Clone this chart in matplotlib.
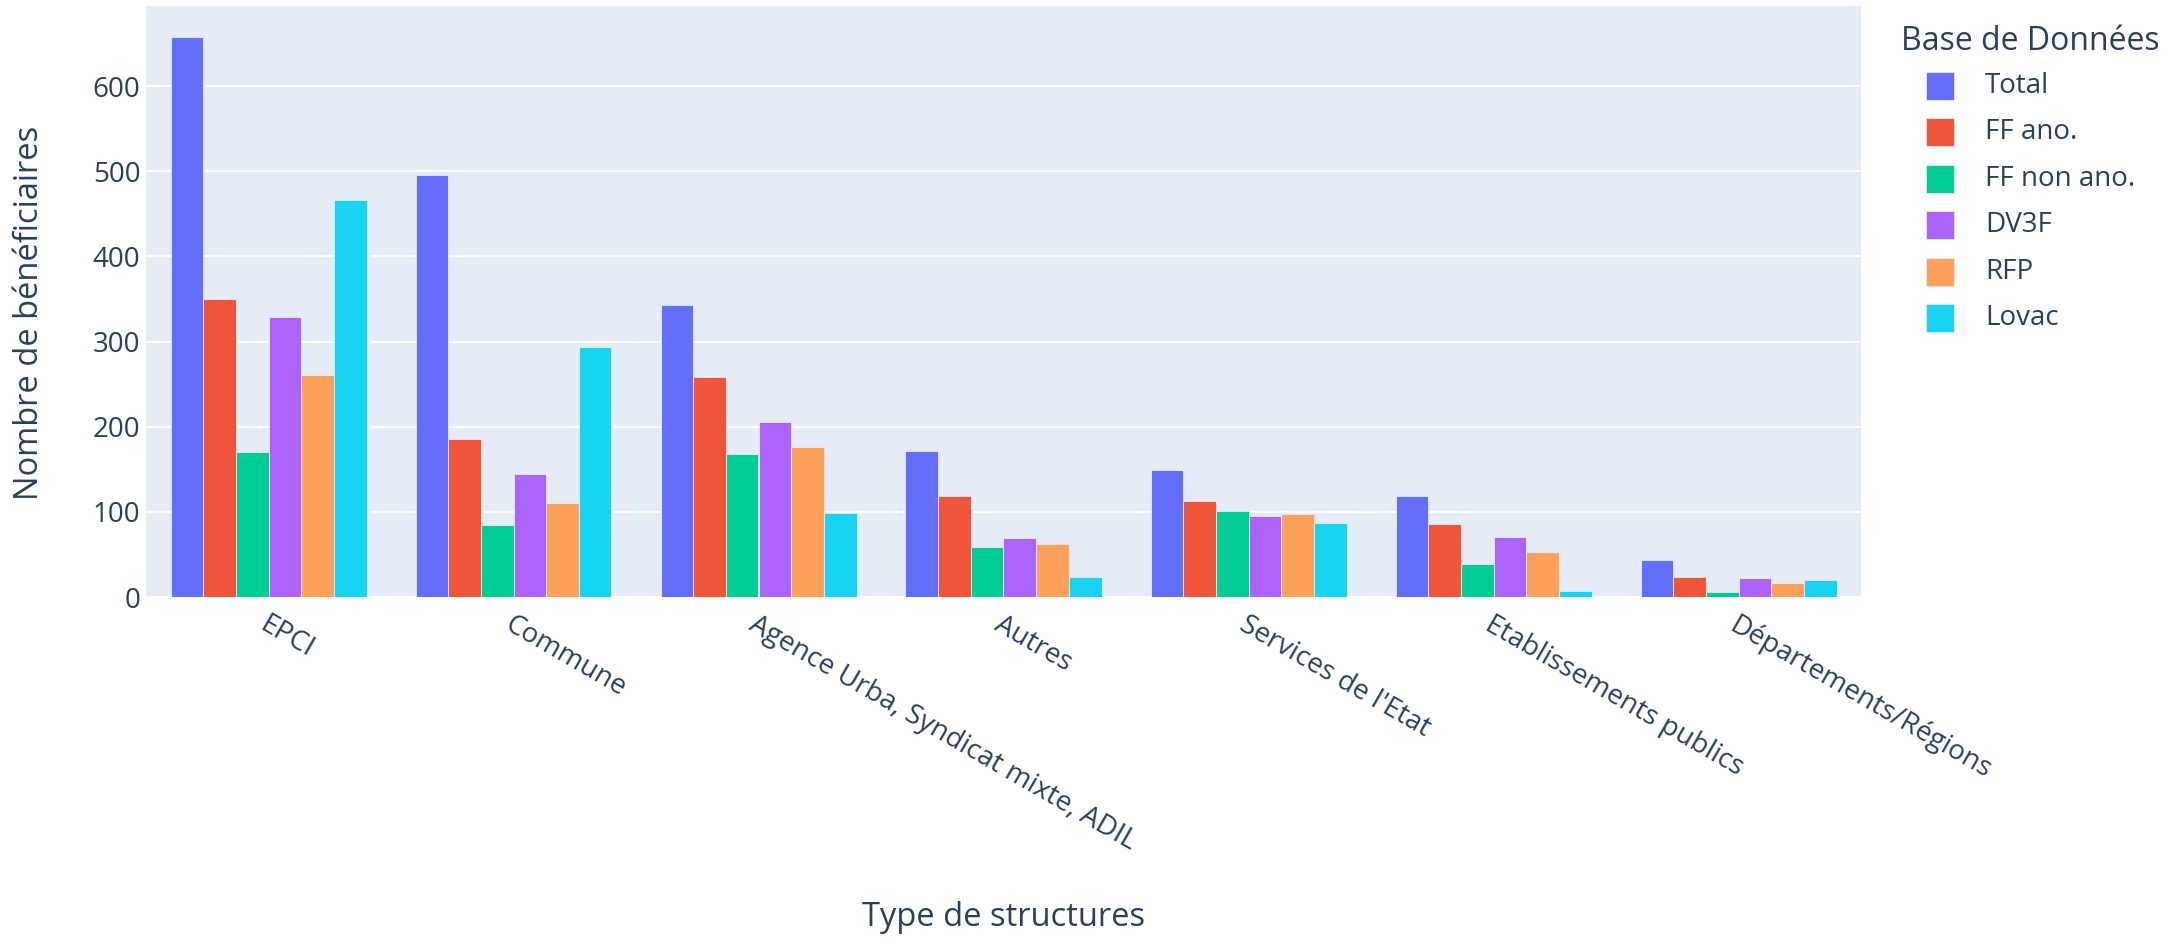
import matplotlib
matplotlib.use("Agg")
import matplotlib.pyplot as plt
import numpy as np
from matplotlib.patches import Rectangle

plt.rcParams['font.family'] = ['Open Sans', 'DejaVu Sans']

# Data
categories = ["EPCI", "Commune", "Agence Urba, Syndicat mixte, ADIL", "Autres",
              "Services de l'Etat", "Etablissements publics", "Départements/Régions"]
series_names = ["Total", "FF ano.", "FF non ano.", "DV3F", "RFP", "Lovac"]
total = [658, 495, 343, 172, 149, 119, 43]
ff_ano = [350, 185, 258, 119, 113, 86, 24]
ff_non_ano = [170, 84, 168, 59, 101, 39, 6]
dv3f = [329, 144, 206, 69, 95, 71, 22]
rfp = [261, 110, 176, 62, 97, 53, 16]
lovac = [466, 293, 99, 24, 87, 7, 20]
series_values = [total, ff_ano, ff_non_ano, dv3f, rfp, lovac]
colors = ["#636EFA", "#EF553B", "#00CC96", "#AB63FA", "#FFA15A", "#19D3F3"]

TEXT = "#2a3f5f"
W, H = 2181, 942
fig = plt.figure(figsize=(W / 100, H / 100), dpi=100)

# plot area in pixels: x 146..1861, y 6..597
left, right, top, bottom = 146, 1861, 6, 597
ax = fig.add_axes([left / W, 1 - bottom / H, (right - left) / W, (bottom - top) / H])
ax.set_facecolor("#E5ECF6")

x = np.arange(len(categories))
n = len(series_names)
group_w = 0.8
bw = group_w / n
for i, (name, vals, c) in enumerate(zip(series_names, series_values, colors)):
    offs = -group_w / 2 + bw * (i + 0.5)
    ax.bar(x + offs, vals, width=bw, color=c, edgecolor="#E5ECF6", linewidth=0.6,
           label=name, zorder=3)

ax.set_xlim(-0.5, len(categories) - 0.5)
ax.set_ylim(0, 694)
ax.set_yticks(range(0, 700, 100))
ax.yaxis.grid(True, color="white", linewidth=1.6, zorder=0)
ax.set_axisbelow(True)
for s in ax.spines.values():
    s.set_visible(False)

ax.set_xticks(x)
ax.set_xticklabels(categories, rotation=-30, ha="left", va="top",
                   rotation_mode="anchor", fontsize=20, color=TEXT)
ax.tick_params(axis="x", length=0, pad=10)
ax.tick_params(axis="y", length=0, pad=4, labelsize=20, labelcolor=TEXT)

ax.set_ylabel("Nombre de bénéficiaires", fontsize=23.5, color=TEXT, va="center")
ax.yaxis.set_label_coords((30 - left) / (right - left), 0.48)
ax.set_xlabel("Type de structures", fontsize=23.5, color=TEXT)
ax.xaxis.set_label_coords(0.5, -0.543)
ax.xaxis.label.set_va("center")

# legend drawn by hand, plotly style
fig.text(1901 / W, 1 - 42 / H, "Base de Données", fontsize=23, color=TEXT,
         ha="left", va="center")
for i, (name, c) in enumerate(zip(series_names, colors)):
    yc = 86 + 46.4 * i
    fig.patches.append(Rectangle((1926 / W, 1 - (yc + 14) / H), 28 / W, 28 / H,
                                 transform=fig.transFigure, facecolor=c,
                                 edgecolor="#E5ECF6", linewidth=0.6))
    fig.text(1985 / W, 1 - yc / H, name, fontsize=20, color=TEXT,
             ha="left", va="center")

fig.savefig("out.png", dpi=100, facecolor="white")
